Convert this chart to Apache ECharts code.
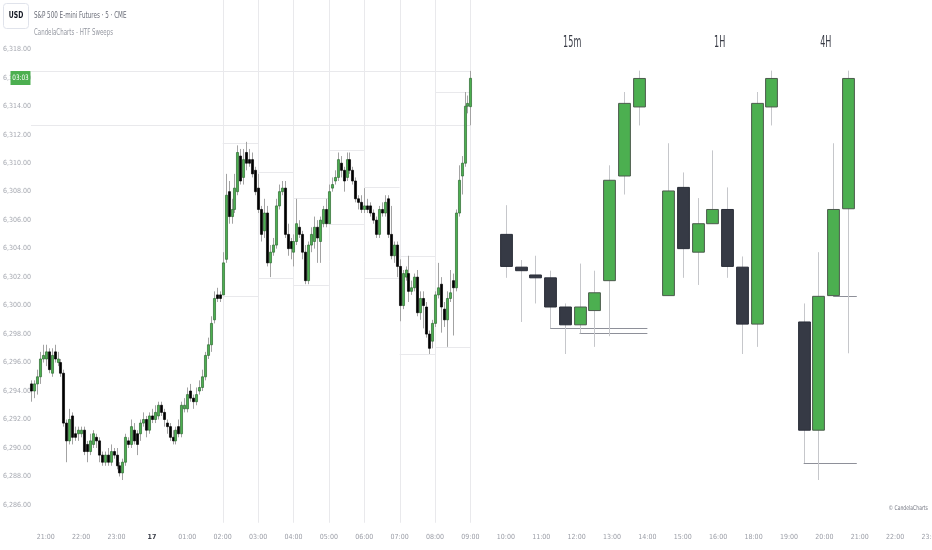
<!DOCTYPE html>
<html><head><meta charset="utf-8">
<script src="https://cdn.jsdelivr.net/npm/echarts@6/dist/echarts.min.js"></script>
<style>html,body{margin:0;padding:0;background:#fff}#c{width:932px;height:550px}</style>
</head><body><div id="c"></div>
<script>
const FONT = "'DejaVu Sans Condensed','Liberation Sans Narrow','Liberation Sans',sans-serif";

// ---------- axis definitions ----------
const SLOT_COUNT = 316;              // 5-minute slots on the time axis
const FIRST_SLOT = [19, 45];         // first slot time (hh, mm)
const SKIP_HOUR = 17;                // futures maintenance break
const tickLabels = ['21:00','22:00','23:00','17','01:00','02:00','03:00','04:00','05:00','06:00','07:00','08:00','09:00',
  '10:00','11:00','12:00','13:00','14:00','15:00','16:00','18:00','19:00','20:00','21:00','22:00','23:00'];
const firstTickTime = '21:00';
const priceLabels = [6286,6288,6290,6292,6294,6296,6298,6300,6302,6304,6306,6308,6310,6312,6314,6316,6318];

// ---------- 5-minute candles (ES, starting 20:35) ----------
const mainStart = '20:35';
const mainOpen = [6294.5,6294.0,6294.5,6295.0,6296.25,6296.25,6296.75,6295.25,6296.75,6296.0,6296.0,6295.25,6291.75,6290.5,6292.25,6291.0,6291.0,6291.0,6291.25,6290.25,
 6289.75,6290.25,6290.75,6290.5,6289.5,6289.0,6289.5,6289.0,6289.75,6289.5,6288.75,6288.25,6289.0,6290.5,6290.25,6291.25,6291.0,6291.0,6291.75,6292.0,
 6291.25,6292.25,6292.0,6292.25,6293.0,6292.5,6291.75,6291.5,6290.75,6290.5,6291.5,6291.0,6292.75,6292.75,6294.0,6293.5,6293.25,6294.0,6294.25,6295.0,
 6296.5,6297.25,6299.0,6300.75,6300.75,6300.75,6303.25,6308.0,6306.25,6306.75,6308.0,6310.5,6309.0,6310.75,6310.25,6310.25,6309.5,6308.25,6306.75,6305.25,
 6306.5,6303.0,6303.75,6304.25,6307.0,6308.0,6308.25,6305.0,6304.5,6303.75,6304.5,6305.5,6305.0,6303.75,6301.75,6304.25,6304.5,6305.5,6304.5,6305.75,
 6306.75,6305.75,6308.25,6308.75,6309.0,6310.0,6309.5,6309.0,6310.25,6309.5,6308.75,6307.5,6307.25,6306.75,6307.0,6307.0,6306.5,6306.0,6305.0,6306.75,
 6306.5,6307.5,6305.0,6303.5,6304.25,6302.75,6300.0,6302.0,6302.25,6301.0,6301.25,6302.0,6299.5,6300.5,6299.9,6298.0,6297.5,6298.75,6300.75,6301.5,
 6299.75,6299.0,6300.5,6301.75,6301.25,6306.5,6309.1,6310.0,6314.0,6313.97];
const mainClose = [6294.0,6294.5,6295.0,6296.25,6296.5,6296.75,6295.5,6296.5,6296.25,6296.25,6295.25,6291.75,6290.5,6292.0,6290.75,6290.75,6291.25,6291.25,6289.75,6289.75,
 6290.5,6291.0,6290.5,6289.5,6289.0,6289.5,6289.0,6289.75,6289.5,6288.75,6288.25,6289.0,6290.75,6290.25,6291.5,6290.5,6290.25,6291.75,6292.0,6291.25,
 6292.25,6292.0,6292.5,6293.0,6292.5,6292.0,6291.5,6290.75,6290.5,6291.25,6291.0,6293.0,6293.0,6293.75,6293.5,6293.25,6293.75,6294.25,6295.0,6296.5,
 6297.25,6298.75,6300.5,6300.5,6300.5,6303.0,6307.75,6306.25,6306.75,6308.25,6310.75,6308.75,6310.25,6310.0,6310.0,6309.25,6308.0,6306.75,6305.0,6306.5,
 6303.0,6303.75,6304.25,6307.0,6308.0,6308.25,6305.0,6304.0,6304.0,6304.5,6305.75,6305.0,6303.75,6301.75,6304.25,6305.0,6305.5,6304.75,6306.0,6306.75,
 6305.75,6308.0,6308.5,6309.0,6310.25,6309.5,6308.75,6310.25,6309.5,6308.75,6307.5,6307.25,6306.75,6307.0,6306.75,6306.5,6306.0,6305.0,6306.75,6306.5,
 6307.25,6305.0,6303.5,6304.25,6302.75,6300.0,6302.25,6302.5,6301.0,6301.25,6302.0,6299.5,6300.5,6300.0,6298.0,6297.0,6298.75,6300.75,6301.25,6299.9,
 6299.0,6300.5,6300.9,6301.25,6306.5,6308.8,6310.0,6314.0,6314.2,6315.96];
const mainLow = [6293.25,6293.5,6293.75,6294.5,6296.0,6295.75,6295.25,6295.0,6296.0,6295.75,6295.0,6291.5,6289.0,6290.25,6290.25,6290.5,6290.5,6290.75,6289.5,6289.0,
 6289.5,6290.0,6290.0,6289.0,6288.75,6288.75,6288.75,6288.75,6289.25,6288.5,6288.0,6287.75,6288.75,6290.0,6290.0,6290.25,6289.5,6290.5,6291.5,6290.75,
 6291.0,6291.75,6291.75,6292.0,6292.25,6291.5,6291.0,6290.5,6290.25,6290.25,6290.75,6290.75,6292.5,6292.5,6293.25,6292.75,6293.0,6293.75,6294.0,6294.75,
 6296.25,6296.75,6298.75,6300.25,6300.25,6300.75,6303.0,6305.75,6305.75,6306.5,6307.75,6308.5,6308.5,6309.5,6309.75,6309.0,6307.75,6306.5,6304.5,6304.75,
 6302.75,6302.0,6303.5,6304.0,6306.75,6307.75,6304.75,6303.5,6303.25,6302.75,6304.25,6304.75,6303.25,6301.5,6301.5,6303.75,6304.0,6303.0,6303.0,6305.5,
 6305.5,6305.75,6308.0,6308.5,6308.75,6309.0,6308.0,6308.75,6309.25,6308.5,6307.25,6306.75,6306.5,6306.5,6306.5,6306.25,6305.75,6304.75,6304.75,6306.25,
 6306.25,6304.75,6303.25,6303.0,6302.0,6298.9,6299.75,6301.75,6300.25,6300.75,6301.0,6299.25,6299.0,6298.4,6297.75,6296.6,6297.0,6298.5,6300.5,6298.1,
 6298.5,6297.1,6300.25,6297.9,6301.0,6306.25,6307.8,6309.75,6313.5,6312.66];
const mainHigh = [6294.75,6294.75,6295.5,6296.75,6297.25,6297.25,6297.0,6297.0,6297.25,6296.75,6296.25,6295.5,6292.0,6292.75,6292.5,6291.5,6291.5,6291.5,6291.5,6290.5,
 6291.0,6291.25,6291.0,6290.75,6289.75,6289.75,6290.0,6290.25,6290.0,6290.0,6289.0,6289.25,6291.0,6290.75,6292.0,6291.75,6291.25,6292.0,6292.5,6292.25,
 6292.5,6292.75,6293.0,6293.25,6293.25,6292.75,6292.0,6291.75,6291.25,6291.5,6292.0,6293.25,6293.5,6294.25,6294.5,6293.75,6294.25,6294.75,6295.5,6296.75,
 6297.75,6299.25,6301.0,6301.25,6301.0,6303.75,6309.25,6308.75,6307.5,6309.25,6311.25,6311.0,6311.0,6311.5,6311.0,6310.75,6309.75,6309.25,6307.0,6307.5,
 6307.0,6304.25,6304.75,6307.5,6308.5,6308.75,6308.75,6305.75,6304.75,6305.0,6307.5,6306.0,6305.25,6304.25,6304.5,6305.5,6306.25,6306.0,6306.25,6307.0,
 6307.5,6308.5,6309.0,6309.5,6310.75,6310.5,6309.75,6310.75,6310.75,6309.75,6309.0,6307.75,6307.75,6308.25,6307.5,6307.25,6306.75,6306.25,6307.0,6307.25,
 6307.75,6307.75,6307.0,6304.5,6304.5,6303.25,6302.5,6302.75,6303.5,6301.75,6302.25,6302.5,6301.0,6301.0,6300.25,6298.25,6299.0,6301.0,6303.0,6302.0,
 6300.25,6301.0,6302.5,6302.25,6306.75,6309.85,6310.5,6315.0,6314.75,6316.48];

// ---------- higher-timeframe candles ----------
const HTF_STEP = 5;  // slots between HTF candles
const htf15Start = '10:00';
const htf15Open  = [6305.0,6302.7,6302.15,6301.95,6299.9,6298.65,6299.65,6301.75,6309.1,6313.95];
const htf15Close = [6302.75,6302.45,6301.95,6299.9,6298.65,6299.9,6300.9,6308.8,6314.2,6315.95];
const htf15Low   = [6301.95,6298.85,6300.15,6298.4,6296.6,6298.05,6297.1,6297.85,6307.8,6312.65];
const htf15High  = [6307.05,6303.2,6303.5,6302.45,6300.15,6302.95,6302.45,6309.85,6315.0,6316.5];
const htf15Sweeps = [3, 5];

const htf1hStart = '14:35';
const htf1hOpen  = [6300.7,6308.3,6303.75,6305.75,6306.75,6302.7,6298.7,6313.95];
const htf1hClose = [6308.05,6304.0,6305.75,6306.75,6302.75,6298.7,6314.2,6315.95];
const htf1hLow   = [6300.7,6301.95,6301.45,6305.75,6301.95,6296.6,6297.1,6312.65];
const htf1hHigh  = [6311.4,6309.35,6307.55,6310.9,6308.3,6303.45,6315.0,6316.5];
const htf1hSweeps = [];

const htf4hStart = '19:25';
const htf4hOpen  = [6298.85,6291.25,6300.7,6306.8];
const htf4hClose = [6291.25,6300.65,6306.75,6315.95];
const htf4hLow   = [6288.95,6287.75,6300.7,6296.65];
const htf4hHigh  = [6300.15,6303.75,6311.4,6316.5];
const htf4hSweeps = [0, 2];

// hourly boxes drawn on the 5m chart (from the 1H candles)
const boxHours = ['02:00','03:00','04:00','05:00','06:00','07:00','08:00'];
const hourLines = ['02:00','03:00','04:00','05:00','06:00','07:00','08:00','09:00'];

// ---------- build ----------
function pad(n){return String(n).padStart(2,'0');}
const slots = [];
(function(){ let m = FIRST_SLOT[0]*60+FIRST_SLOT[1];
  while (slots.length < SLOT_COUNT) { const h = Math.floor(m/60)%24; if (h !== SKIP_HOUR) slots.push(pad(h)+':'+pad(m%60)); m += 5; } })();
const labelAt = {};
(function(){ let k = 0, started = false;
  for (let i = 0; i < slots.length && k < tickLabels.length; i++) {
    if (slots[i] === firstTickTime) started = true;
    if (started && slots[i].endsWith(':00')) labelAt[i] = tickLabels[k++];
  } })();
const slotOf = t => slots.indexOf(t);

const Y_MIN = 6284, Y_MAX = 6321.46, LINE_BOTTOM = 6284.75;

const s0 = slotOf(mainStart);
const mainData = mainOpen.map((o,i)=>[s0+i, o, mainClose[i], mainLow[i], mainHigh[i]]);
const mainEnd = s0 + mainOpen.length - 1;

const groups = [
  {label:'15m', start:htf15Start, o:htf15Open, c:htf15Close, l:htf15Low, h:htf15High, sweeps:htf15Sweeps},
  {label:'1H',  start:htf1hStart, o:htf1hOpen, c:htf1hClose, l:htf1hLow, h:htf1hHigh, sweeps:htf1hSweeps},
  {label:'4H',  start:htf4hStart, o:htf4hOpen, c:htf4hClose, l:htf4hLow, h:htf4hHigh, sweeps:htf4hSweeps}
];
const htfData = [], sweepLines = [], groupLabelData = [];
groups.forEach((g, gi) => {
  const st = slotOf(g.start);
  g.o.forEach((o,i)=>htfData.push([st+i*HTF_STEP, o, g.c[i], g.l[i], g.h[i]]));
  const last = st + (g.o.length-1)*HTF_STEP;
  groupLabelData.push([st, last, gi]);
  g.sweeps.forEach(i => sweepLines.push([st+i*HTF_STEP, g.l[i], last+3, g.l[i]]));
});

const gridLines = [];
hourLines.forEach(t => { const s = slotOf(t); gridLines.push([s, Y_MAX, s, LINE_BOTTOM]); });
boxHours.forEach((t,i) => { const s = slotOf(t);
  gridLines.push([s, htf1hHigh[i], s+12, htf1hHigh[i]]);
  gridLines.push([s, htf1hLow[i], s+12, htf1hLow[i]]); });
const cur = htf1hOpen.length-1;
gridLines.push([s0, htf1hHigh[cur], mainEnd, htf1hHigh[cur]]);
gridLines.push([s0, htf1hLow[cur], mainEnd, htf1hLow[cur]]);

function lineSeries(items, color, z){
  return {type:'custom', z, silent:true, clip:false, data:items, encode:{x:[0,2], y:[1,3]},
    renderItem(params, api){
      const p1 = api.coord([api.value(0), api.value(1)]), p2 = api.coord([api.value(2), api.value(3)]);
      const sx = v => Math.round(v)+0.5;
      const vert = Math.abs(p1[0]-p2[0]) < 0.5;
      const shape = vert ? {x1:sx(p1[0]),y1:p1[1],x2:sx(p2[0]),y2:p2[1]} : {x1:p1[0],y1:sx(p1[1]),x2:p2[0],y2:sx(p2[1])};
      return {type:'line', shape, style:{stroke:color, lineWidth:1}};
    }};
}
function candleSeries(items, opt){
  return {type:'custom', z:opt.z, silent:true, clip:false, data:items, encode:{x:0, y:[1,2,3,4]},
    renderItem(params, api){
      const x = api.value(0), o = api.value(1), c = api.value(2), l = api.value(3), h = api.value(4);
      const po = api.coord([x,o]), pc = api.coord([x,c]), pl = api.coord([x,l]), ph = api.coord([x,h]);
      const bw = api.size([1,0])[0]*opt.width;
      const cx = Math.round(po[0]) + 0.5;
      const up = c >= o;
      const top = Math.min(po[1],pc[1]), bot = Math.max(po[1],pc[1]);
      return {type:'group', children:[
        {type:'line', shape:{x1:cx,y1:ph[1],x2:cx,y2:pl[1]}, style:{stroke:opt.wick, lineWidth:1}},
        {type:'rect', shape:{x:cx-bw/2, y:top, width:bw, height:Math.max(bot-top,1)},
          style:{fill: up?opt.up:opt.down, stroke: up?opt.upBorder:opt.downBorder, lineWidth:opt.bwidth}}
      ]};
    }};
}
const groupLabelSeries = {type:'custom', z:6, silent:true, clip:false, data:groupLabelData, encode:{x:[0,1]},
  renderItem(params, api){
    const p1 = api.coord([api.value(0), Y_MAX]), p2 = api.coord([api.value(1), Y_MAX]);
    return {type:'text', x:(p1[0]+p2[0])/2, y:params.coordSys.y+43, scaleX:0.6,
      style:{text:groups[api.value(2)].label, fontSize:15, fontFamily:FONT, fill:'#3a3d47', align:'center', verticalAlign:'middle'}};
  }};

const chart = echarts.init(document.getElementById('c'), null, {renderer:'canvas'});
chart.setOption({
  animation:false,
  backgroundColor:'#ffffff',
  grid:{left:0, right:0, top:0, bottom:550-(Y_MAX-Y_MIN)*14.24, containLabel:false, outerBoundsMode:'none'},
  xAxis:{type:'category', data:slots, boundaryGap:true, offset:-8,
    axisLine:{show:false}, axisTick:{show:false}, splitLine:{show:false},
    axisLabel:{interval:(i)=>labelAt[i]!==undefined, margin:8, color:'#9a9da6', fontSize:7, fontFamily:FONT,
      formatter:(v,i)=> labelAt[i]==='17' ? '{d|17}' : (labelAt[i]||''),
      rich:{d:{color:'#3d404a', fontSize:7, fontFamily:FONT, fontWeight:'bold'}}}},
  yAxis:{type:'value', min:Y_MIN, max:Y_MAX, interval:2, position:'left',
    axisLine:{show:false}, axisTick:{show:false}, splitLine:{show:false},
    axisLabel:{inside:true, margin:3, color:'#a6a9b1', fontSize:7, fontFamily:FONT,
      formatter:v=> priceLabels.indexOf(v)>=0 ? v.toLocaleString('en-US',{minimumFractionDigits:2, maximumFractionDigits:2}) : ''}},
  series:[
    lineSeries(gridLines, '#e9e9ec', 1),
    candleSeries(mainData, {z:3, width:0.7, bwidth:0.7, wick:'#a3a3a3', up:'#4caf50', upBorder:'#2d6a30', down:'#000000', downBorder:'#000000'}),
    lineSeries(sweepLines, '#8e9099', 2),
    candleSeries(htfData, {z:4, width:4, bwidth:1, wick:'#c6c7cb', up:'#4caf50', upBorder:'#4b5a4c', down:'#363a45', downBorder:'#2a2e39'}),
    groupLabelSeries
  ],
  graphic:{elements:[
    {type:'rect', z:10, shape:{x:3.5,y:3.5,width:25,height:25,r:3}, style:{fill:'#ffffff', stroke:'#e0e3eb', lineWidth:1}},
    {type:'text', z:11, x:16, y:16, scaleX:0.8, style:{text:'USD', fontSize:8.5, fontWeight:'bold', fontFamily:FONT, fill:'#131722', align:'center', verticalAlign:'middle'}},
    {type:'text', z:11, x:34, y:16, scaleX:0.78, style:{text:'S&P 500 E-mini Futures · 5 · CME', fontSize:8, fontFamily:FONT, fill:'#6a6d78', align:'left', verticalAlign:'middle'}},
    {type:'text', z:11, x:34, y:33, scaleX:0.76, style:{text:'CandelaCharts - HTF Sweeps', fontSize:8, fontFamily:FONT, fill:'#9598a1', align:'left', verticalAlign:'middle'}},
    {type:'rect', z:10, shape:{x:10.5,y:71,width:20,height:14}, style:{fill:'#4caf50'}},
    {type:'text', z:11, x:20.5, y:78, scaleX:0.85, style:{text:'03:03', fontSize:7.5, fontFamily:FONT, fill:'#ffffff', align:'center', verticalAlign:'middle'}},
    {type:'text', z:11, x:928, y:508, scaleX:0.78, style:{text:'© CandelaCharts', fontSize:6.5, fontFamily:FONT, fill:'#787b86', align:'right', verticalAlign:'middle'}}
  ]}
});
</script></body></html>
